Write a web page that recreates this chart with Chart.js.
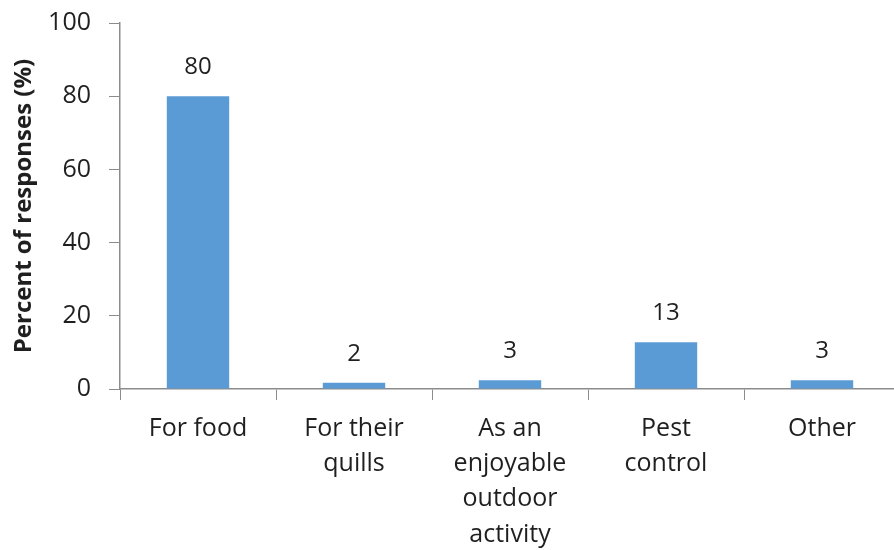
<!DOCTYPE html>
<html>
<head>
<meta charset="utf-8">
<script src="https://cdn.jsdelivr.net/npm/chart.js@4/dist/chart.umd.min.js"></script>
<style>
    html, body { margin: 0; padding: 0; background: #fff; overflow: hidden; }
    #wrap { width: 900px; height: 550px; }
</style>
</head>
<body>
<div id="wrap"><canvas id="reasonChart"></canvas></div>
<script>
// data
const categories = [
    'For food',
    ['For their', 'quills'],
    ['As an', 'enjoyable', 'outdoor', 'activity'],
    ['Pest', 'control'],
    'Other'
];
const responses = [80, 1.7, 2.4, 12.8, 2.4];
const valueLabels = ['80', '2', '3', '13', '3'];
const yTicks = [0, 20, 40, 60, 80, 100];

const textColor = '#1f1f1f';
const axisColor = '#8c8c8c';
const fontFamily = '"Open Sans", sans-serif';

// simple value labels above each bar
const barLabels = {
    id: 'barLabels',
    afterDatasetsDraw(chart) {
        const ctx = chart.ctx;
        const meta = chart.getDatasetMeta(0);
        ctx.save();
        ctx.font = '24px ' + fontFamily;
        ctx.fillStyle = textColor;
        ctx.textAlign = 'center';
        ctx.textBaseline = 'middle';
        meta.data.forEach((bar, i) => {
            ctx.fillText(valueLabels[i], bar.x, bar.y - 29);
        });
        ctx.restore();
    }
};

const config = {
    type: 'bar',
    data: {
        labels: categories,
        datasets: [{
            data: responses,
            backgroundColor: '#5b9bd5',
            borderWidth: 0,
            barPercentage: 0.4,
            categoryPercentage: 1.0
        }]
    },
    options: {
        responsive: true,
        maintainAspectRatio: false,
        animation: false,
        layout: {
            padding: { top: 23, right: 0, bottom: 0, left: 0 }
        },
        plugins: {
            legend: { display: false },
            tooltip: { enabled: false }
        },
        scales: {
            x: {
                afterFit: function(scale) {
                    scale.height = 161;
                },
                grid: {
                    drawOnChartArea: false,
                    drawTicks: true,
                    tickLength: 11,
                    color: axisColor
                },
                border: { display: true, color: axisColor, width: 1.5 },
                ticks: {
                    color: textColor,
                    padding: 11,
                    maxRotation: 0,
                    autoSkip: false,
                    font: { family: fontFamily, size: 25, lineHeight: 1.41 }
                }
            },
            y: {
                min: 0,
                max: 100,
                afterBuildTicks: function(scale) {
                    scale.ticks = yTicks.map(v => ({ value: v }));
                },
                afterFit: function(scale) {
                    scale.width = 120;
                    scale.paddingTop = 0;
                    scale.paddingBottom = 0;
                },
                grid: {
                    drawOnChartArea: false,
                    drawTicks: true,
                    tickLength: 11,
                    color: axisColor
                },
                border: { display: true, color: axisColor, width: 1.5 },
                ticks: {
                    color: textColor,
                    padding: 18,
                    font: { family: fontFamily, size: 25 }
                },
                title: {
                    display: true,
                    text: 'Percent of responses (%)',
                    color: textColor,
                    padding: { top: 10, bottom: 0 },
                    font: { family: fontFamily, size: 24, weight: 'bold' }
                }
            }
        }
    },
    plugins: [barLabels]
};

const ctx = document.getElementById('reasonChart');
if (ctx) {
    new Chart(ctx.getContext('2d'), config);
}
</script>
</body>
</html>
